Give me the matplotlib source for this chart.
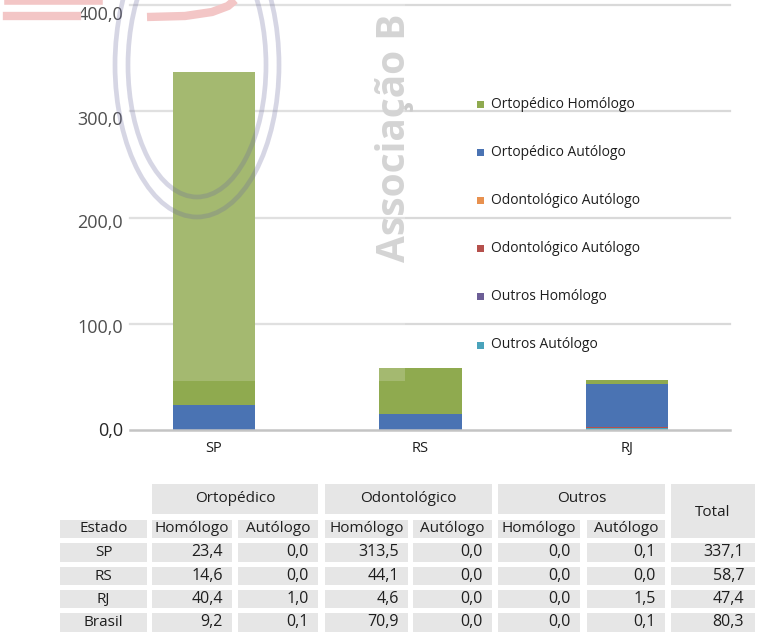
import matplotlib
matplotlib.use("Agg")
import matplotlib.pyplot as plt
import numpy as np
from matplotlib.patches import Rectangle, Ellipse
from matplotlib.lines import Line2D
from matplotlib.transforms import ScaledTranslation

plt.rcParams['font.family'] = ['Open Sans', 'DejaVu Sans']

# ======================
# DATA
# ======================
estados = ["SP", "RS", "RJ"]
table_rows = ["SP", "RS", "RJ", "Brasil"]

tab_orto_hom = [23.4, 14.6, 40.4, 9.2]
tab_orto_aut = [0.0, 0.0, 1.0, 0.1]
tab_odon_hom = [313.5, 44.1, 4.6, 70.9]
tab_odon_aut = [0.0, 0.0, 0.0, 0.0]
tab_outros_hom = [0.0, 0.0, 0.0, 0.0]
tab_outros_aut = [0.1, 0.0, 1.5, 0.1]
tab_total = [337.1, 58.7, 47.4, 80.3]

groups = ["Ortopédico", "Odontológico", "Outros"]
sub_headers = ["Homólogo", "Autólogo"]

yticks = [0, 100, 200, 300, 400]

# chart series, bottom -> top, with the legend labels used in the original chart
bar_series = [
    (tab_outros_aut[:3], "#4aa3bb", "Outros Autólogo"),
    (tab_outros_hom[:3], "#6c5e96", "Outros Homólogo"),
    (tab_orto_aut[:3], "#b5504c", "Odontológico Autólogo"),
    (tab_odon_aut[:3], "#e8914f", "Odontológico Autólogo"),
    (tab_orto_hom[:3], "#4a73b3", "Ortopédico Autólogo"),
    (tab_odon_hom[:3], "#8faa4f", "Ortopédico Homólogo"),
]

# ======================
# FIGURE / PIXEL HELPERS
# ======================
W, H = 766, 635
fig = plt.figure(figsize=(W / 100, H / 100), dpi=100)


def fx(x):
    return x / W


def fy(y):
    return 1 - y / H


TXT = "#1e1e1e"
GRAY = "#e6e6e6"

# ======================
# BAR CHART
# ======================
ax = fig.add_axes([fx(130), fy(430), (730 - 130) / W, (430 - 5) / H])
x = np.arange(len(estados))
bottom = np.zeros(len(estados))
for vals, color, label in bar_series:
    vals = np.array(vals)
    ax.bar(x, vals, 0.40, bottom=bottom, color=color, zorder=3, linewidth=0)
    bottom += vals

ax.set_xlim(-0.407, 2.499)
ax.set_ylim(0, 400)
for v in yticks[1:]:
    ax.axhline(v, color="#d9d9d9", lw=1.6, zorder=1, clip_on=False)

for s in ["top", "right", "left"]:
    ax.spines[s].set_visible(False)
ax.spines["bottom"].set_color("#c4c4c4")
ax.spines["bottom"].set_linewidth(1.8)
ax.spines["bottom"].set_zorder(4)

ax.set_yticks(yticks)
ax.set_yticklabels([f"{v:.1f}".replace(".", ",") for v in yticks])
ax.set_xticks(x)
ax.set_xticklabels(estados)
ax.tick_params(axis="y", length=0, pad=5, labelsize=13, labelcolor="#262626")
ax.tick_params(axis="x", length=0, pad=8, labelsize=10.5, labelcolor=TXT)

# the screenshot has the value labels sitting a little below their gridlines
label_drop_px = [-1.5, 2, 4, 6.5, 8.5]
for lab, d in zip(ax.get_yticklabels(), label_drop_px):
    lab.set_transform(lab.get_transform() + ScaledTranslation(0, -d / 100, fig.dpi_scale_trans))

# legend drawn by hand (top entry = last stacked series)
leg_y0, leg_dy = 104, 48.2
for i, (vals, color, label) in enumerate(bar_series[::-1]):
    yy = leg_y0 + i * leg_dy
    fig.add_artist(Rectangle((fx(477), fy(yy + 3.5)), 7 / W, 7 / H,
                             transform=fig.transFigure, facecolor=color,
                             edgecolor="none"))
    fig.text(fx(491), fy(yy), label, ha="left", va="center",
             fontsize=10, color=TXT)

# ======================
# WATERMARK (logo remains in the screenshot)
# ======================
fig.text(fx(405), fy(262), "Associação B", rotation=90, rotation_mode="anchor",
         ha="left", va="baseline", fontsize=28, fontweight="bold",
         color="#cbcbcb", zorder=1)
fig.add_artist(Rectangle((0, fy(381)), fx(405), 381 / H, transform=fig.transFigure,
                         facecolor="white", alpha=0.19, edgecolor="none", zorder=1.5))
for a, b in [(82, 152), (69, 132)]:
    fig.add_artist(Ellipse((fx(197), fy(65)), 2 * a / W, 2 * b / H,
                           transform=fig.transFigure, fill=False,
                           edgecolor=(0.42, 0.42, 0.62), alpha=0.27, lw=3.4,
                           zorder=2))
pink = "#f3c6c6"
fig.add_artist(Line2D([fx(7), fx(100)], [fy(2), fy(2)], color=pink, lw=4,
                      transform=fig.transFigure, zorder=2))
fig.add_artist(Line2D([fx(7), fx(77)], [fy(16), fy(16)], color=pink, lw=6,
                      transform=fig.transFigure, zorder=2))
fig.add_artist(Line2D([fx(147), fx(185), fx(212), fx(228), fx(235)],
                      [fy(17), fy(16), fy(12), fy(6), fy(0)], color=pink, lw=6,
                      transform=fig.transFigure, zorder=2, solid_capstyle="butt"))

# ======================
# TABLE
# ======================
col_left = [152, 238, 325, 413, 498, 587]
col_right = [232, 318, 408, 492, 580, 665]
tot_l, tot_r = 671, 755
est_l, est_r = 60, 147
hdr1 = (484, 514)
hdr2 = (520, 538)
row_top = [543, 567, 590, 613]
row_bot = [562, 585, 608, 632]


def cell(x0, y0, x1, y1):
    fig.add_artist(Rectangle((fx(x0), fy(y1)), (x1 - x0) / W, (y1 - y0) / H,
                             transform=fig.transFigure, facecolor=GRAY,
                             edgecolor="none"))


def txt(xp, yp, s, ha="center", size=11):
    fig.text(fx(xp), fy(yp), s, ha=ha, va="center", fontsize=size, color=TXT)


# group headers
for g, name in enumerate(groups):
    l, r = col_left[2 * g], col_right[2 * g + 1]
    cell(l, hdr1[0], r, hdr1[1])
    txt((l + r) / 2, (hdr1[0] + hdr1[1]) / 2 - 1, name)
cell(tot_l, hdr1[0], tot_r, hdr2[1])
txt((tot_l + tot_r) / 2, (hdr1[0] + hdr2[1]) / 2 + 1, "Total")

# sub headers
cell(est_l, hdr2[0], est_r, hdr2[1])
txt((est_l + est_r) / 2, (hdr2[0] + hdr2[1]) / 2, "Estado")
for c in range(6):
    cell(col_left[c], hdr2[0], col_right[c], hdr2[1])
    txt((col_left[c] + col_right[c]) / 2, (hdr2[0] + hdr2[1]) / 2, sub_headers[c % 2])

# body
columns = [tab_orto_hom, tab_orto_aut, tab_odon_hom, tab_odon_aut,
           tab_outros_hom, tab_outros_aut]
for i, name in enumerate(table_rows):
    y0, y1 = row_top[i], row_bot[i]
    yc = (y0 + y1) / 2
    cell(est_l, y0, est_r, y1)
    txt((est_l + est_r) / 2, yc, name)
    for c, col in enumerate(columns):
        cell(col_left[c], y0, col_right[c], y1)
        txt(col_right[c] - 9, yc, f"{col[i]:.1f}".replace(".", ","), ha="right", size=11.5)
    cell(tot_l, y0, tot_r, y1)
    txt(tot_r - 11, yc, f"{tab_total[i]:.1f}".replace(".", ","), ha="right", size=11.5)

fig.savefig("out.png", dpi=100)
